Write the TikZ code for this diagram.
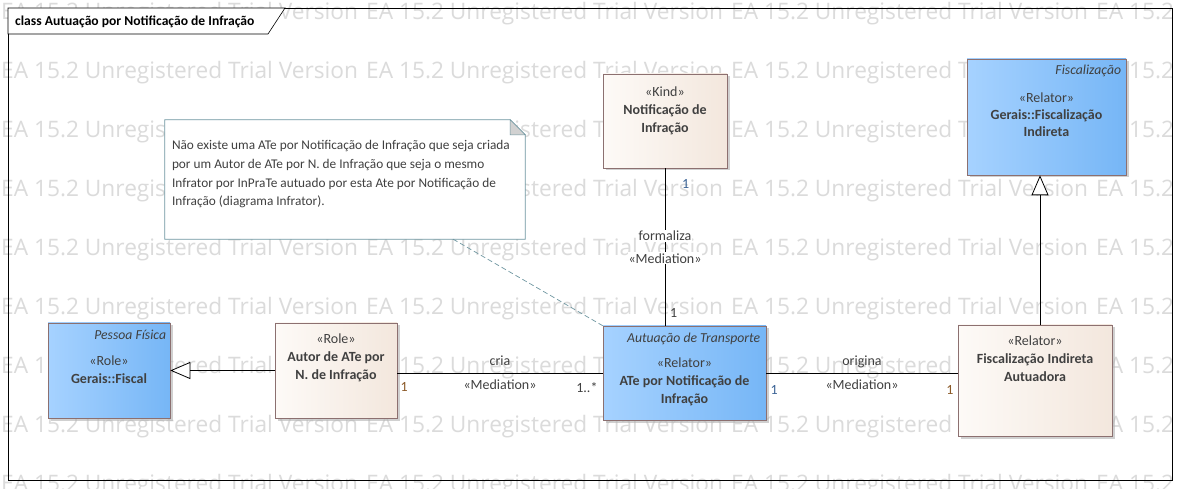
\documentclass[tikz,border=0pt]{standalone}
\usepackage{fontspec}
\setmainfont{Carlito}
\newfontfamily\wmfont{Open Sans}
\usetikzlibrary{calc,positioning,arrows.meta,shadows}
\definecolor{boxline}{RGB}{140,112,112}
\definecolor{blueL}{RGB}{166,210,255}
\definecolor{blueR}{RGB}{118,182,246}
\definecolor{beigeL}{RGB}{253,250,247}
\definecolor{beigeR}{RGB}{243,231,221}
\definecolor{txt}{RGB}{64,64,64}
\definecolor{noteline}{RGB}{110,150,160}
\definecolor{multblue}{RGB}{60,100,150}
\definecolor{multbrown}{RGB}{140,90,40}
\tikzset{
	wmark/.style={anchor=west, inner sep=0, text=black!14, font=\wmfont\fontsize{22.7}{22.7}\selectfont},
	classbox/.style={draw=boxline, line width=0.6pt, inner sep=0, drop shadow={shadow xshift=2.5pt, shadow yshift=-2.5pt, fill=black!30, opacity=0.6}},
	bluebox/.style={classbox, left color=blueL, right color=blueR},
	beigebox/.style={classbox, left color=beigeL, right color=beigeR},
	classtext/.style={align=center, inner sep=0, text=txt, font=\fontsize{14}{18}\selectfont},
	pkgtext/.style={anchor=north east, inner sep=0, text=txt, font=\itshape\fontsize{13.7}{13.7}\selectfont},
	conn/.style={line width=0.8pt},
	gen/.style={line width=0.8pt, -{Triangle[fill=white, length=20pt, width=17pt]}},
	lbl/.style={inner sep=1pt, text=txt, font=\fontsize{14}{14}\selectfont},
	mult/.style={inner sep=1pt, font=\fontsize{14}{14}\selectfont},
}

\begin{document}
\begin{tikzpicture}[x=1pt, y=-1pt]
		%%%%% START %%%%%
		\useasboundingbox (0, 0) rectangle (1179, 489);
		\fill[white] (0, 0) rectangle (1179, 489);
		
		% watermark
		\begin{scope}
			\clip (0, 0) rectangle (1179, 489);
			\foreach \r in {0,...,8}{
				\foreach \c in {0,...,3}{
					\node[wmark] at ({1+365*\c}, {14+59*\r}) {EA 15.2 Unregistered Trial Version};
				}
			}
		\end{scope}
		
		% frame
		\draw[line width=0.6pt] (8, 8) rectangle (1172, 480);
		\draw[line width=0.6pt, fill=white] (8, 8) -- (8, 34) -- (268, 34) -- (285, 8) -- cycle;
		\node[anchor=west, inner sep=0, font=\bfseries\fontsize{13.6}{13.6}\selectfont] (title) at (15, 22) {class Autuação por Notificação de Infração};
		
		% classes
		\node[beigebox, minimum width=124pt, minimum height=94pt] (kind) at (665, 121) {};
		\node[bluebox, minimum width=159pt, minimum height=116pt] (fiscind) at (1046.5, 117) {};
		\node[bluebox, minimum width=122pt, minimum height=95pt] (fiscal) at (109, 370.5) {};
		\node[beigebox, minimum width=122pt, minimum height=95pt] (autor) at (336, 370.5) {};
		\node[bluebox, minimum width=163pt, minimum height=94pt] (ate) at (684.5, 373) {};
		\node[beigebox, minimum width=154pt, minimum height=111pt] (autuadora) at (1035, 380.5) {};
		
		\node[classtext, below=13pt of kind.north] {«Kind»\\\textbf{Notificação de}\\\textbf{Infração}};
		\node[pkgtext] at ([xshift=-5pt, yshift=-6pt]fiscind.north east) {Fiscalização};
		\node[classtext, below=34pt of fiscind.north, font=\fontsize{14}{17}\selectfont] {«Relator»\\\textbf{Gerais::Fiscalização}\\\textbf{Indireta}};
		\node[pkgtext] at ([xshift=-4pt, yshift=-7pt]fiscal.north east) {Pessoa Física};
		\node[classtext, below=33pt of fiscal.north] {«Role»\\\textbf{Gerais::Fiscal}};
		\node[classtext, below=11pt of autor.north] {«Role»\\\textbf{Autor de ATe por}\\\textbf{N. de Infração}};
		\node[pkgtext] at ([xshift=-6pt, yshift=-7.5pt]ate.north east) {Autuação de Transporte};
		\node[classtext, below=32pt of ate.north] {«Relator»\\\textbf{ATe por Notificação de}\\\textbf{Infração}};
		\node[classtext, below=11pt of autuadora.north] {«Relator»\\\textbf{Fiscalização Indireta}\\\textbf{Autuadora}};
		
		% note
		\node[minimum width=360pt, minimum height=119pt, inner sep=0] (note) at (345, 179.5) {};
		\draw[noteline, line width=0.7pt, fill=white] (note.south west) -- (note.north west) -- ([xshift=-15pt]note.north east) -- ([yshift=-15pt]note.north east) -- (note.south east) -- cycle;
		\draw[noteline, line width=0.5pt, fill=black!18] ([xshift=-15pt]note.north east) -- ([xshift=-15pt, yshift=-15pt]note.north east) -- ([yshift=-15pt]note.north east) -- cycle;
		\node[anchor=north west, align=left, inner sep=0, text=txt, font=\fontsize{13.3}{18.7}\selectfont] (notetxt) at ([xshift=7pt, yshift=-20.5pt]note.north west) {Não existe uma ATe por Notificação de Infração que seja criada\\por um Autor de ATe por N. de Infração que seja o mesmo\\Infrator por InPraTe autuado por esta Ate por Notificação de\\Infração (diagrama Infrator).};
		\coordinate (noteend) at ($(note.south west)!0.8!(note.south east)$);
		\draw[noteline, line width=0.7pt, dash pattern=on 5pt off 3pt] (noteend) -- (ate.north west);
		
		% connectors
		\draw[gen] (autor.west) -- (fiscal.east);
		\draw[gen] ([xshift=5pt]autuadora.north) -- ([xshift=-6.5pt]fiscind.south);
		
		\draw[conn] (autor.east |- ate.west) -- node[lbl, above=6pt] {cria} node[lbl, below=5.5pt] {«Mediation»} (ate.west);
		\node[mult, text=multbrown, anchor=north west] at ([xshift=2pt, yshift=-8pt]autor.east |- ate.west) {1};
		\node[mult, text=txt, anchor=north east] at ([xshift=-4pt, yshift=-8pt]ate.west) {1..*};
		
		\draw[conn] (ate.east) -- node[lbl, above=4pt] {origina} node[lbl, below=5.5pt] {«Mediation»} (autuadora.west |- ate.east);
		\node[mult, text=multblue, anchor=north west] at ([xshift=3pt, yshift=-11pt]ate.east) {1};
		\node[mult, text=multbrown, anchor=north east] at ([xshift=-3pt, yshift=-11pt]autuadora.west |- ate.east) {1};
		
		\draw[conn] (kind.south) -- node[lbl, fill=white, above=5pt] {formaliza} node[lbl, fill=white, below=5pt] {«Mediation»} (kind.south |- ate.north);
		\node[mult, text=multblue, anchor=north west] at ([xshift=16pt, yshift=-10pt]kind.south) {1};
		\node[mult, text=txt, anchor=south west] at ([xshift=4pt, yshift=7pt]kind.south |- ate.north) {1};
		%%%%% END %%%%%
\end{tikzpicture}
\end{document}
